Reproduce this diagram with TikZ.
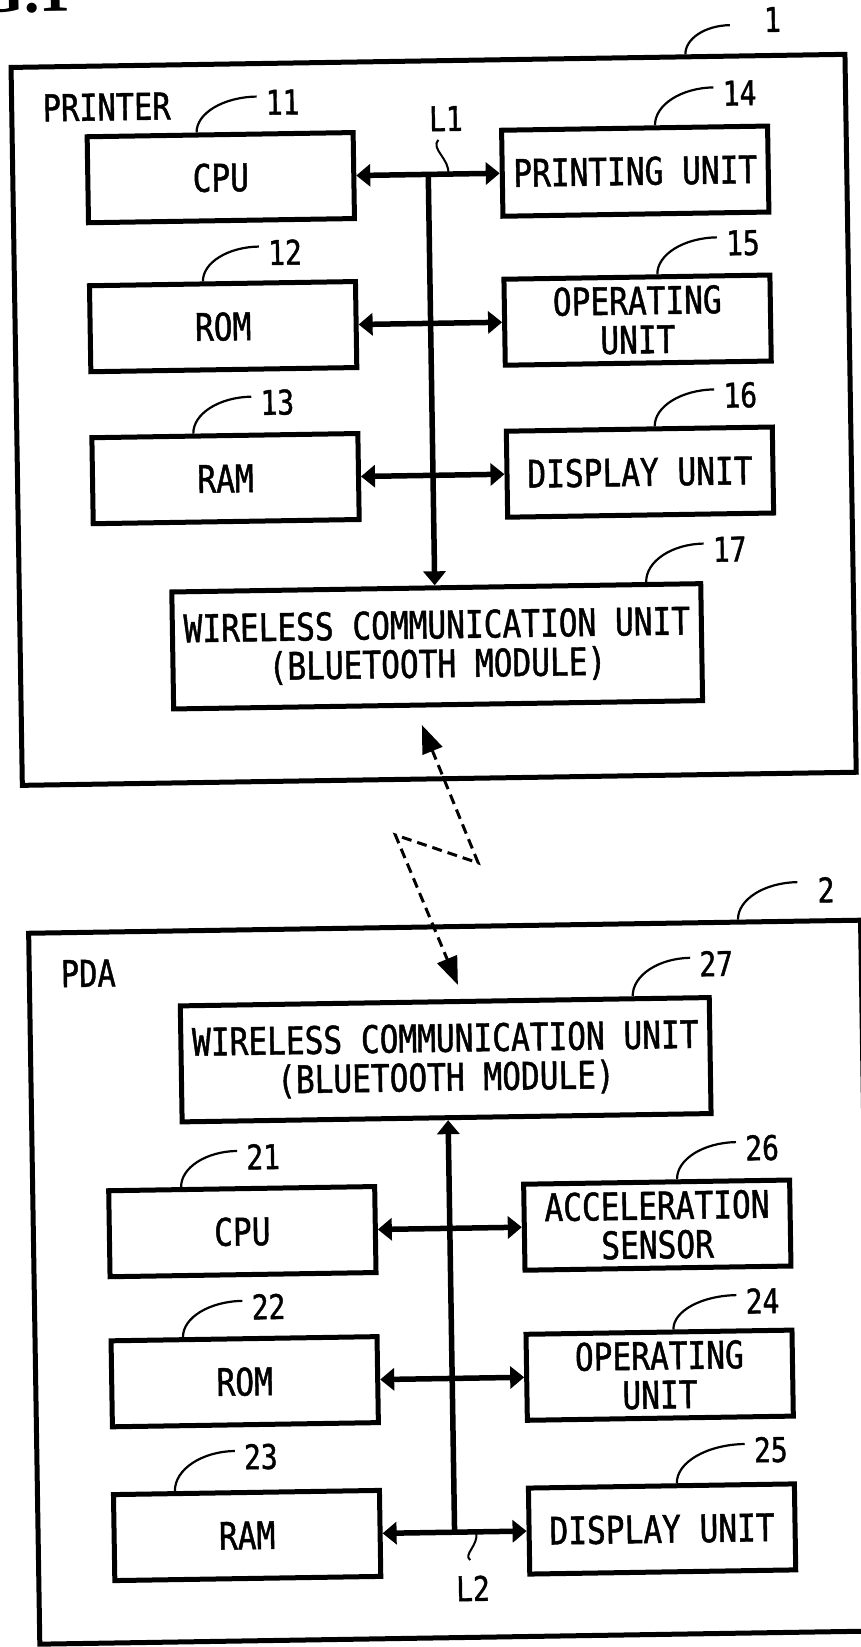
\documentclass[tikz,border=0pt]{standalone}
\usepackage{fontspec}
\usetikzlibrary{arrows.meta,calc}
\newfontfamily\boxfont{DejaVu Sans Mono}[FakeStretch=0.82,FakeBold=1.2]
\newfontfamily\figfont{Liberation Serif}
\newcommand\leadline[4]{%
  \path #1 coordinate (la);
  \path ($(#2.west)+(#3,#4)$) coordinate (lb);
  \draw[leader] (la) .. controls ($(la)!0.55!(la|-lb)$) and ($(lb)!0.55!(la|-lb)$) .. (lb);}
\begin{document}
\begin{tikzpicture}[x=1pt,y=-1pt,
  box/.style={draw,line width=5pt,minimum width=266pt,minimum height=86pt,inner sep=0pt,align=center,font=\boxfont\fontsize{38}{39}\selectfont},
  outer/.style={draw,line width=5pt,inner sep=0pt},
  lbl/.style={inner sep=0pt,font=\boxfont\fontsize{34}{34}\selectfont},
  ttl/.style={inner sep=0pt,font=\boxfont\fontsize{37}{37}\selectfont},
  leader/.style={line width=2.2pt},
  squig/.style={line width=2pt},
  biarrow/.style={line width=5.5pt,{Triangle[length=14pt,width=22pt]}-{Triangle[length=14pt,width=22pt]}},
  busarrow/.style={line width=5.5pt,-{Triangle[length=14pt,width=22pt]}},
  radio/.style={line width=3pt,dash pattern=on 10pt off 6pt,{Triangle[length=28pt,width=21pt]}-{Triangle[length=28pt,width=21pt]}}
]
\useasboundingbox (12.9,-6.8) rectangle ++(860,1647);
\begin{scope}[rotate=0.9,transform shape]
% figure title (cut off at the top)
\node[anchor=base east,inner sep=0pt,font=\figfont\bfseries\fontsize{62}{62}\selectfont] (fig) at (84,6) {FIG.1};

% ---------------- printer ----------------
\node[outer,minimum width=834pt,minimum height=718pt] (printer) at (440,420) {};
\node[ttl] (tprinter) at (118,102) {PRINTER};
\node[box] (cpu1) at (231,174.5) {CPU};
\node[box] (prt) at (645.5,174.5) {PRINTING UNIT};
\node[box] (rom1) at (231,323.5) {ROM};
\node[box] (op1) at (645.5,323.5) {OPERATING\\UNIT};
\node[box] (ram1) at (231,475.5) {RAM};
\node[box] (disp1) at (645.5,475.5) {DISPLAY UNIT};
\node[box,minimum width=529pt,minimum height=117pt] (wl1) at (440,646.5) {WIRELESS COMMUNICATION UNIT\\(BLUETOOTH MODULE)};

\node[lbl] (l1) at (785,25) {1};
\node[lbl] (l11) at (294,100) {11};
\node[lbl] (l14) at (751,98) {14};
\node[lbl] (l12) at (294,250) {12};
\node[lbl] (l15) at (752,248) {15};
\node[lbl] (l13) at (284,400) {13};
\node[lbl] (l16) at (747,400) {16};
\node[lbl] (l17) at (734,554) {17};
\node[lbl] (lL1) at (457,119) {L1};

\leadline{($(printer.north west)+(677,0)$)}{l1}{-34}{5}
\leadline{($(cpu1.north west)+(112,0)$)}{l11}{-9}{-6}
\leadline{($(prt.north west)+(156,0)$)}{l14}{-9}{-6}
\leadline{($(rom1.north west)+(116,0)$)}{l12}{-9}{-6}
\leadline{($(op1.north west)+(156,0)$)}{l15}{-9}{-6}
\leadline{($(ram1.north west)+(104,0)$)}{l13}{-9}{-6}
\leadline{($(disp1.north west)+(151,0)$)}{l16}{-9}{-6}
\leadline{($(wl1.north west)+(477,0)$)}{l17}{-9}{-6}

\draw[biarrow] (cpu1.east) -- (prt.west);
\draw[biarrow] (rom1.east) -- (op1.west);
\draw[biarrow] (ram1.east) -- (disp1.west);
\coordinate (b1) at (438.5,174.5);
\coordinate (b1d) at (438.5,300);
\draw[busarrow] (b1) -- ($(b1)!(wl1.north)!(b1d)$);
\coordinate (sq1) at (458.5,174.5);
\draw[squig] ($(lL1.south)+(-8,8.5)$) .. controls +(-8,9) and +(2,-15) .. (sq1);

% ---------------- radio link ----------------
\coordinate (t1) at (423.5,725);
\coordinate (p1) at (477.6,863.7);
\coordinate (p2) at (395.2,834.5);
\coordinate (t2) at (455.4,985.4);
\draw[radio] (t1) -- (p1) -- (p2) -- (t2);

% ---------------- PDA ----------------
\node[outer,minimum width=832pt,minimum height=711pt] (pda) at (443,1282.5) {};
\node[ttl] (tpda) at (86,968) {PDA};
\node[box,minimum width=529pt,minimum height=116pt] (wl2) at (442,1060) {WIRELESS COMMUNICATION UNIT\\(BLUETOOTH MODULE)};
\node[box] (cpu2) at (236,1228.7) {CPU};
\node[box] (acc) at (651,1228.7) {ACCELERATION\\SENSOR};
\node[box] (rom2) at (236,1378.8) {ROM};
\node[box] (op2) at (651,1378.8) {OPERATING\\UNIT};
\node[box] (ram2) at (236,1532.6) {RAM};
\node[box] (disp2) at (651,1532.6) {DISPLAY UNIT};

\node[lbl] (l2) at (825,896) {2};
\node[lbl] (l27) at (714,968) {27};
\node[lbl] (l21) at (258,1154) {21};
\node[lbl] (l26) at (757,1153) {26};
\node[lbl] (l22) at (261,1304) {22};
\node[lbl] (l24) at (755,1306) {24};
\node[lbl] (l23) at (251,1454) {23};
\node[lbl] (l25) at (761,1455) {25};
\node[lbl] (lL2) at (461,1589) {L2};

\leadline{($(pda.north west)+(712,0)$)}{l2}{-20}{-8}
\leadline{($(wl2.north west)+(455,0)$)}{l27}{-9}{-6}
\leadline{($(cpu2.north west)+(75,0)$)}{l21}{-9}{-6}
\leadline{($(acc.north west)+(156,0)$)}{l26}{-9}{-6}
\leadline{($(rom2.north west)+(74.5,0)$)}{l22}{-9}{-6}
\leadline{($(op2.north west)+(150,0)$)}{l24}{-9}{-6}
\leadline{($(ram2.north west)+(64,0)$)}{l23}{-9}{-6}
\leadline{($(disp2.north west)+(151,0)$)}{l25}{-9}{-6}

\draw[biarrow] (cpu2.east) -- (acc.west);
\draw[biarrow] (rom2.east) -- (op2.west);
\draw[biarrow] (ram2.east) -- (disp2.west);
\coordinate (b2) at (443.5,1532.6);
\coordinate (b2u) at (443.5,1400);
\draw[busarrow] (b2) -- ($(b2)!(wl2.south)!(b2u)$);
\coordinate (sq2) at (465.3,1532.6);
\draw[squig] (sq2) .. controls +(2,14) and +(-7,-6) .. ($(lL2.north)+(-2.4,-15.5)$);
\end{scope}
\end{tikzpicture}
\end{document}
